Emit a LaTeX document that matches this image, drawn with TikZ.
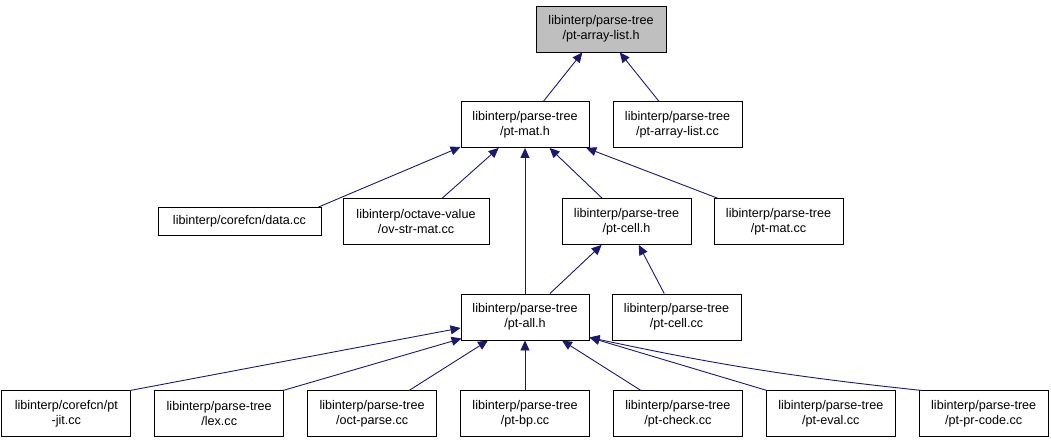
\documentclass[tikz,border=0pt]{standalone}
\usepackage{fontspec}
\setmainfont{Liberation Sans}
\usetikzlibrary{positioning}
\usetikzlibrary{arrows.meta}
\definecolor{incblue}{HTML}{191970}
\definecolor{hdrgray}{HTML}{BFBFBF}
\tikzset{
  file/.style={draw=black, line width=0.9pt, fill=white, minimum width=129pt,
    minimum height=46pt, inner sep=2pt, align=center,
    font=\fontsize{12.6}{15}\selectfont},
  inc/.style={draw=incblue, line width=0.9pt, -{Triangle[length=10pt,width=9pt]}},
}

\begin{document}
\begin{tikzpicture}[x=1pt,y=-1pt]
\useasboundingbox (0,0) rectangle (1051,443);
% Define nodes
% Top nodes
\node[file, fill=hdrgray, minimum width=130pt] (arrlist) at (601,29) {libinterp/parse-tree\\/pt-array-list.h};
\node[file, minimum width=128pt] (ptmat) at (525,124.5) {libinterp/parse-tree\\/pt-mat.h};
\node[file] (arrlistcc) at (677.5,124.5) {libinterp/parse-tree\\/pt-array-list.cc};
% Middle nodes
\node[file, minimum width=163pt, minimum height=28pt] (data) at (239.5,221.5) {libinterp/corefcn/data.cc};
\node[file, minimum width=146pt] (ovstrmat) at (416,221.5) {libinterp/octave-value\\/ov-str-mat.cc};
\node[file] (ptcell) at (626.5,221.5) {libinterp/parse-tree\\/pt-cell.h};
\node[file] (ptmatcc) at (778.5,221.5) {libinterp/parse-tree\\/pt-mat.cc};
\node[file, minimum width=128pt] (ptall) at (525,317) {libinterp/parse-tree\\/pt-all.h};
\node[file] (ptcellcc) at (676.5,317) {libinterp/parse-tree\\/pt-cell.cc};
% Bottom nodes
\node[file, below=50pt of ptall] (ptbp) {libinterp/parse-tree\\/pt-bp.cc};
\node[file, left=23pt of ptbp] (octparse) {libinterp/parse-tree\\/oct-parse.cc};
\node[file, left=23pt of octparse] (lex) {libinterp/parse-tree\\/lex.cc};
\node[file, left=23pt of lex] (ptjit) {libinterp/corefcn/pt\\-jit.cc};
\node[file, right=23pt of ptbp] (ptcheck) {libinterp/parse-tree\\/pt-check.cc};
\node[file, right=23pt of ptcheck] (pteval) {libinterp/parse-tree\\/pt-eval.cc};
\node[file, right=23pt of pteval] (ptprcode) {libinterp/parse-tree\\/pt-pr-code.cc};

% Edges
\draw[inc] (ptmat) -- (arrlist);
\draw[inc] (arrlistcc) -- (arrlist);
\draw[inc] ([xshift=-3pt]data.north east) -- ([yshift=1pt]ptmat.south west);
\draw[inc] (ovstrmat) -- (ptmat);
\draw[inc] (ptall) -- (ptmat);
\draw[inc] (ptcell) -- (ptmat);
\draw[inc] (ptmatcc) -- (ptmat);
\draw[inc] (ptall) -- (ptcell);
\draw[inc] (ptcellcc) -- (ptcell);
\draw[inc] ([xshift=-1pt]ptjit.north east) -- ([yshift=-11pt]ptall.west);
\draw[inc] ([xshift=-1pt]lex.north east) -- ([xshift=1pt,yshift=2pt]ptall.south west);
\draw[inc] (octparse) -- (ptall);
\draw[inc] (ptbp) -- (ptall);
\draw[inc] (ptcheck) -- (ptall);
\draw[inc] ([xshift=1pt]pteval.north west) -- ([yshift=3pt]ptall.south east);
\draw[inc] ([xshift=3pt]ptprcode.north west) to[bend left=3] ([yshift=3pt]ptall.south east);
\end{tikzpicture}
\end{document}
